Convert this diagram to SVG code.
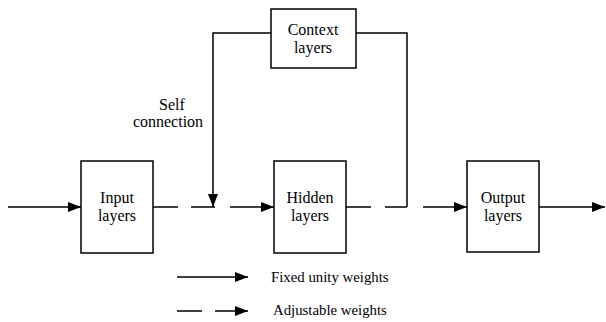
<svg xmlns="http://www.w3.org/2000/svg" width="606" height="322" viewBox="0 0 606 322">
<style>
.box{fill:#fff;stroke:#000;stroke-width:1.5}
.ln{fill:none;stroke:#000;stroke-width:1.5}
text{font-family:'Liberation Serif','Times New Roman',serif;fill:#000}
.t{font-size:16px;text-anchor:middle}
.lg{font-size:14.8px}
</style>
<defs>
<marker id="ah" markerUnits="userSpaceOnUse" markerWidth="14" markerHeight="12" refX="13" refY="5" orient="auto">
<path d="M0,0 L13,5 L0,10 Z" fill="#000"/>
</marker>
</defs>
<g id="connectors">
<line class="ln" x1="8" y1="207" x2="81" y2="207" marker-end="url(#ah)"/>
<line class="ln" x1="153" y1="207" x2="178" y2="207"/>
<line class="ln" x1="191" y1="207" x2="215" y2="207"/>
<line class="ln" x1="230" y1="207" x2="274" y2="207" marker-end="url(#ah)"/>
<line class="ln" x1="346" y1="207" x2="371" y2="207"/>
<line class="ln" x1="385" y1="207" x2="407" y2="207"/>
<line class="ln" x1="423" y1="207" x2="467" y2="207" marker-end="url(#ah)"/>
<line class="ln" x1="539" y1="207" x2="605" y2="207" marker-end="url(#ah)"/>
<polyline class="ln" points="271,33 213,33 213,207" marker-end="url(#ah)"/>
<polyline class="ln" points="356,33 407,33 407,207"/>
<line class="ln" x1="177" y1="277" x2="248" y2="277" marker-end="url(#ah)"/>
<line class="ln" x1="177" y1="311" x2="202" y2="311"/>
<line class="ln" x1="215" y1="311" x2="248" y2="311" marker-end="url(#ah)"/>
</g>
<g id="context">
<rect class="box" x="271" y="9" width="85" height="59"/>
<text class="t" x="313" y="35">Context</text>
<text class="t" x="313" y="53">layers</text>
</g>
<g id="input">
<rect class="box" x="81" y="161" width="72" height="92"/>
<text class="t" x="117" y="203">Input</text>
<text class="t" x="117" y="221">layers</text>
</g>
<g id="hidden">
<rect class="box" x="274" y="161" width="72" height="92"/>
<text class="t" x="310" y="203">Hidden</text>
<text class="t" x="310" y="221">layers</text>
</g>
<g id="output">
<rect class="box" x="467" y="161" width="72" height="91"/>
<text class="t" x="503" y="203">Output</text>
<text class="t" x="503" y="221">layers</text>
</g>
<g id="self-label">
<text class="t" x="172" y="110">Self</text>
<text class="t" x="168" y="127">connection</text>
</g>
<g id="legend">
<text class="lg" x="271" y="282">Fixed unity weights</text>
<text class="lg" x="273" y="315">Adjustable weights</text>
</g>
</svg>
